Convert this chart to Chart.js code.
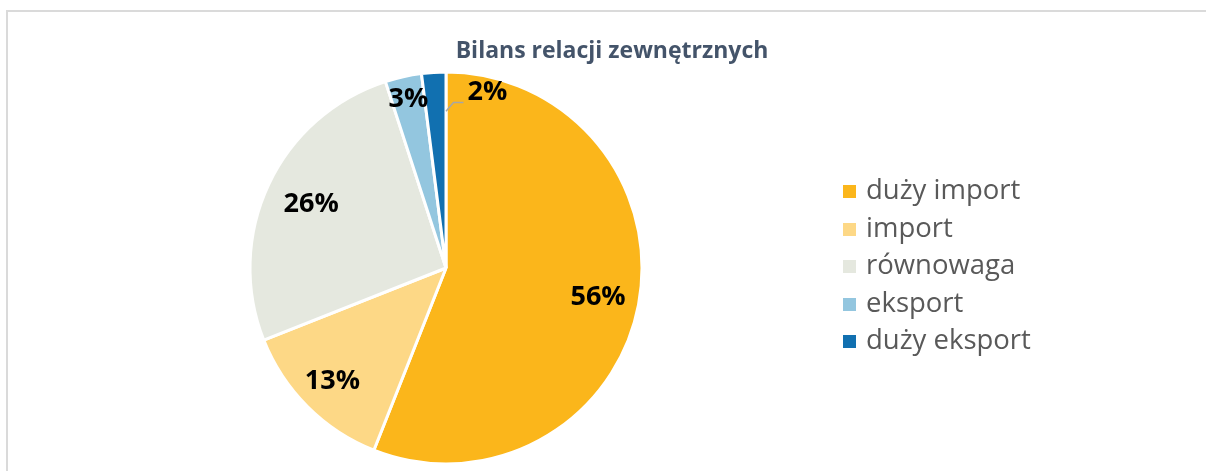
<!DOCTYPE html>
<html lang="pl">
<head>
<meta charset="utf-8">
<script src="https://cdn.jsdelivr.net/npm/chart.js@4/dist/chart.umd.min.js"></script>
<style>
  html, body { margin: 0; padding: 0; background: #fff; overflow: hidden; }
  body { width: 1206px; height: 471px; position: relative; }
  #frame {
    position: absolute; left: 6px; top: 10px;
    width: 1220px; height: 480px;
    border-left: 2px solid #dadada; border-top: 2px solid #dadada;
    box-sizing: border-box;
  }
  #chartBox { position: absolute; left: 0; top: 0; width: 1210px; height: 470px; }
  #title {
    position: absolute; left: 0; top: 23px; width: 1208px; text-align: center;
    font-family: "Open Sans", sans-serif; font-weight: bold; font-size: 23px;
    color: #44546A; line-height: 28px;
  }
  #legend {
    position: absolute; left: 835px; top: 158px;
    list-style: none; margin: 0; padding: 0;
    font-family: "Open Sans", sans-serif; font-size: 27.5px; color: #595959;
  }
  #legend li { height: 37.6px; line-height: 37.6px; white-space: nowrap; }
  #legend span.box {
    display: inline-block; width: 13px; height: 13px;
    margin-right: 10px; vertical-align: 1px;
  }
</style>
</head>
<body>
<div id="frame">
  <div id="chartBox"><canvas id="pieChart"></canvas></div>
  <div id="title"></div>
  <ul id="legend"></ul>
</div>
<script>
// Udział relacji wg bilansu wymiany
const chartTitle = 'Bilans relacji zewnętrznych';
const categories = ['duży import', 'import', 'równowaga', 'eksport', 'duży eksport'];
const shares = [56, 13, 26, 3, 2];
const sliceColors = ['#FBB61B', '#FDD886', '#E5E8DF', '#93C6DF', '#1170B0'];
// how far out (fraction of radius) each value label sits
const labelRadius = [0.79, 0.82, 0.76, 0.88, 0.92];

// Value labels, the smallest slice gets an outside label with a leader line
const valueLabels = {
  id: 'valueLabels',
  afterDatasetsDraw(chart) {
    const ctx = chart.ctx;
    const meta = chart.getDatasetMeta(0);
    ctx.save();
    ctx.font = 'bold 27px "Open Sans", sans-serif';
    ctx.fillStyle = '#000';
    ctx.textBaseline = 'middle';
    ctx.textAlign = 'center';
    meta.data.forEach((arc, i) => {
      const { x, y, startAngle, endAngle, outerRadius } = arc.getProps(['x', 'y', 'startAngle', 'endAngle', 'outerRadius']);
      const text = shares[i] + '%';
      if (i === shares.length - 1) {
        const a = endAngle + 0.232;
        const lx = x + Math.cos(a) * outerRadius * labelRadius[i];
        const ly = y + Math.sin(a) * outerRadius * labelRadius[i];
        ctx.strokeStyle = '#A6A6A6';
        ctx.lineWidth = 1.5;
        ctx.beginPath();
        ctx.moveTo(x + Math.cos(endAngle) * outerRadius * 0.8, y + Math.sin(endAngle) * outerRadius * 0.8);
        ctx.lineTo(lx - 34, ly + 10);
        ctx.lineTo(lx - 24, ly + 10);
        ctx.stroke();
        ctx.fillText(text, lx, ly);
      } else {
        const a = (startAngle + endAngle) / 2;
        ctx.fillText(text,
          x + Math.cos(a) * outerRadius * labelRadius[i],
          y + Math.sin(a) * outerRadius * labelRadius[i]);
      }
    });
    ctx.restore();
  }
};

new Chart(document.getElementById('pieChart'), {
  type: 'pie',
  data: {
    labels: categories,
    datasets: [{
      data: shares,
      backgroundColor: sliceColors,
      borderColor: '#fff',
      borderWidth: 3,
      radius: 196,
    }],
  },
  options: {
    responsive: true,
    maintainAspectRatio: false,
    animation: false,
    layout: { padding: { left: 0, right: 334, top: 49, bottom: 7 } },
    plugins: {
      legend: { display: false },
      tooltip: { enabled: false },
    },
  },
  plugins: [valueLabels],
});

document.getElementById('title').textContent = chartTitle;

// HTML legend built from the same arrays
const legend = document.getElementById('legend');
categories.forEach((name, i) => {
  const li = document.createElement('li');
  const box = document.createElement('span');
  box.className = 'box';
  box.style.background = sliceColors[i];
  li.appendChild(box);
  li.appendChild(document.createTextNode(name));
  legend.appendChild(li);
});
</script>
</body>
</html>
